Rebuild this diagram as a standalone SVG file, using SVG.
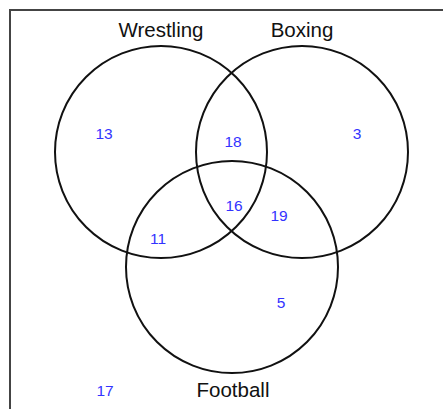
<svg xmlns="http://www.w3.org/2000/svg" width="443" height="409" viewBox="0 0 443 409">
<style>
.set{fill:none;stroke:#111;stroke-width:2}
.lbl{font-family:"Liberation Sans",Arial,sans-serif;font-size:20.5px;fill:#111;text-anchor:middle}
.num{font-family:"Liberation Sans",Arial,sans-serif;font-size:15.5px;fill:#3333ff;text-anchor:middle}
</style>
<rect x="0" y="0" width="443" height="409" fill="#fff"/>
<rect x="10" y="10" width="450" height="420" fill="none" stroke="#444" stroke-width="2"/>
<g id="wrestling"><circle class="set" cx="161" cy="152" r="106"/><text class="lbl" x="161" y="37">Wrestling</text></g>
<g id="boxing"><circle class="set" cx="302" cy="152" r="106"/><text class="lbl" x="302" y="37">Boxing</text></g>
<g id="football"><circle class="set" cx="232" cy="267" r="106"/><text class="lbl" x="233" y="397">Football</text></g>
<g id="counts">
<text class="num" x="104" y="139">13</text>
<text class="num" x="233" y="147">18</text>
<text class="num" x="357" y="139">3</text>
<text class="num" x="234" y="211">16</text>
<text class="num" x="279" y="221">19</text>
<text class="num" x="158" y="244">11</text>
<text class="num" x="281" y="308">5</text>
<text class="num" x="105" y="396">17</text>
</g>
<g id="connectors"></g>
</svg>
